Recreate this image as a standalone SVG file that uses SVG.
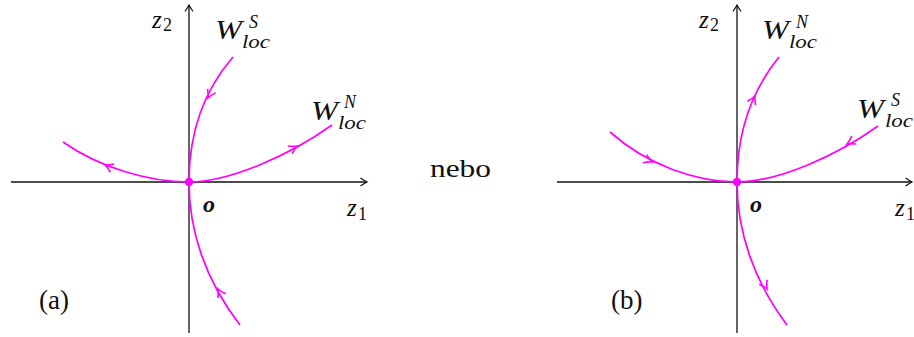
<svg xmlns="http://www.w3.org/2000/svg" xmlns:xlink="http://www.w3.org/1999/xlink" width="914" height="337" viewBox="0 0 914 337">
<style>
.axis{stroke:#111;stroke-width:1.3;fill:none}
.curve{stroke:#ff00ff;stroke-width:1.7;fill:none}
</style>
<defs>
<marker id="ax" markerUnits="userSpaceOnUse" viewBox="-8 -6 10 12" refX="0" refY="0" markerWidth="10" markerHeight="12" orient="auto">
<path d="M-6.5,-4 Q-2,-1 0,0 Q-2,1 -6.5,4" fill="none" stroke="#111" stroke-width="1.2"/>
</marker>
<path id="mh" d="M-8,-4.5 Q-3,-1 0,0 Q-3,1 -8,4.5" fill="none" stroke="#ff00ff" stroke-width="1.6"/>
</defs>
<rect width="914" height="337" fill="#fff"/>

<g id="panel-a">
<g id="axes-a">
<line class="axis" x1="11" y1="182" x2="367" y2="182" marker-end="url(#ax)"/>
<line class="axis" x1="189" y1="333" x2="189" y2="5" marker-end="url(#ax)"/>
</g>
<g id="curves-a">
<path class="curve" d="M189,182 C189,140 200,95 233,57"/>
<path class="curve" d="M189,182 C230,182 290,155 332,125"/>
<path class="curve" d="M189,182 C150,182 100,168 63,142"/>
<path class="curve" d="M189,182 C189,230 205,280 240,325"/>
<use xlink:href="#mh" transform="translate(208,98) rotate(117)"/>
<use xlink:href="#mh" transform="translate(297,146) rotate(-29)"/>
<use xlink:href="#mh" transform="translate(105,165) rotate(-157)"/>
<use xlink:href="#mh" transform="translate(218,289) rotate(-119)"/>
<circle cx="189" cy="182" r="4.2" fill="#ff00ff"/>
</g>
<g id="labels-a" fill="#111">
<text font-family="Liberation Serif" font-style="italic" x="152" y="28" font-size="25">z</text>
<text font-family="Liberation Serif" x="163" y="31" font-size="18">2</text>
<text font-family="Liberation Serif" font-style="italic" x="347" y="216" font-size="25">z</text>
<text font-family="Liberation Serif" x="358" y="220" font-size="18">1</text>
<text font-family="Liberation Serif" font-style="italic" font-size="28" x="215" y="39" textLength="27" lengthAdjust="spacingAndGlyphs">W</text>
<text font-family="Liberation Serif" font-style="italic" font-size="18" x="249" y="28">S</text>
<text font-family="Liberation Serif" font-style="italic" font-size="19" x="242" y="48" textLength="28" lengthAdjust="spacingAndGlyphs">loc</text>
<text font-family="Liberation Serif" font-style="italic" font-size="28" x="311" y="120" textLength="27" lengthAdjust="spacingAndGlyphs">W</text>
<text font-family="Liberation Serif" font-style="italic" font-size="18" x="344" y="108">N</text>
<text font-family="Liberation Serif" font-style="italic" font-size="19" x="338" y="129" textLength="28" lengthAdjust="spacingAndGlyphs">loc</text>
<text font-family="Liberation Serif" font-style="italic" font-weight="bold" x="203" y="212" font-size="24">o</text>
<text font-family="Liberation Serif" x="39" y="309" font-size="27">(a)</text>
</g>
</g>

<g id="middle" fill="#111">
<text font-family="Liberation Serif" x="430" y="177" font-size="26" textLength="61" lengthAdjust="spacingAndGlyphs">nebo</text>
</g>

<g id="panel-b">
<g id="axes-b">
<line class="axis" x1="557" y1="182" x2="912" y2="182" marker-end="url(#ax)"/>
<line class="axis" x1="737" y1="333" x2="737" y2="5" marker-end="url(#ax)"/>
</g>
<g id="curves-b">
<path class="curve" d="M737,182 C737,140 748,95 779,57"/>
<path class="curve" d="M737,182 C778,182 836,156 878,126"/>
<path class="curve" d="M737,182 C698,182 648,166 610,132"/>
<path class="curve" d="M737,182 C737,230 753,280 787,325"/>
<use xlink:href="#mh" transform="translate(755,96) rotate(-64)"/>
<use xlink:href="#mh" transform="translate(847,144) rotate(151)"/>
<use xlink:href="#mh" transform="translate(652,162) rotate(25)"/>
<use xlink:href="#mh" transform="translate(767,289) rotate(61)"/>
<circle cx="737" cy="182" r="4.2" fill="#ff00ff"/>
</g>
<g id="labels-b" fill="#111">
<text font-family="Liberation Serif" font-style="italic" x="699" y="28" font-size="25">z</text>
<text font-family="Liberation Serif" x="710" y="31" font-size="18">2</text>
<text font-family="Liberation Serif" font-style="italic" x="895" y="216" font-size="25">z</text>
<text font-family="Liberation Serif" x="906" y="220" font-size="18">1</text>
<text font-family="Liberation Serif" font-style="italic" font-size="28" x="762" y="39" textLength="27" lengthAdjust="spacingAndGlyphs">W</text>
<text font-family="Liberation Serif" font-style="italic" font-size="18" x="796" y="28">N</text>
<text font-family="Liberation Serif" font-style="italic" font-size="19" x="789" y="48" textLength="28" lengthAdjust="spacingAndGlyphs">loc</text>
<text font-family="Liberation Serif" font-style="italic" font-size="28" x="857" y="118" textLength="27" lengthAdjust="spacingAndGlyphs">W</text>
<text font-family="Liberation Serif" font-style="italic" font-size="18" x="891" y="106">S</text>
<text font-family="Liberation Serif" font-style="italic" font-size="19" x="885" y="127" textLength="28" lengthAdjust="spacingAndGlyphs">loc</text>
<text font-family="Liberation Serif" font-style="italic" font-weight="bold" x="750" y="212" font-size="24">o</text>
<text font-family="Liberation Serif" x="611" y="309" font-size="27">(b)</text>
</g>
</g>
</svg>
